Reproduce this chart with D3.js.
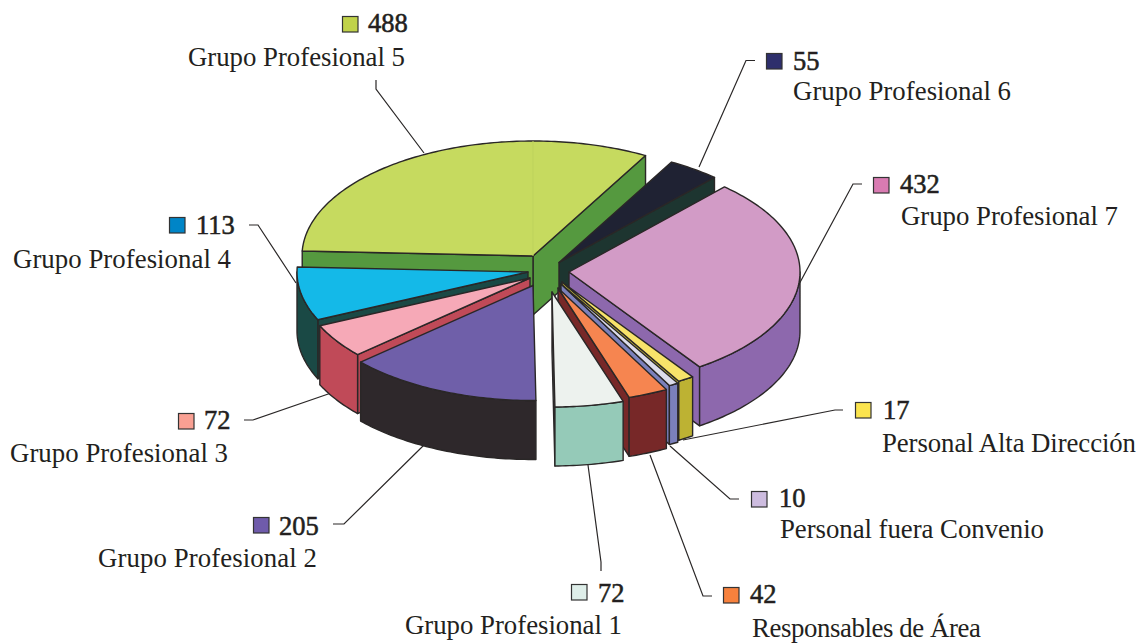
<!DOCTYPE html>
<html><head><meta charset="utf-8">
<script src="https://cdn.jsdelivr.net/npm/d3@7/dist/d3.min.js"></script>
<style>html,body{margin:0;padding:0;background:#fff}svg{display:block}text{font-family:"Liberation Serif",serif;fill:#231f20}</style>
</head><body><svg id="c" width="1139" height="643"></svg>
<script>
// ---- data
const categories = ["Grupo Profesional 5","Grupo Profesional 6","Grupo Profesional 7","Personal Alta Dirección","Personal fuera Convenio","Responsables de Área","Grupo Profesional 1","Grupo Profesional 2","Grupo Profesional 3","Grupo Profesional 4"];
const values = [488,55,432,17,10,42,72,205,72,113];

// ---- styles
const topColors  = ["#c6da5f","#1f2233","#d29bc6","#f8e36a","#dcdcea","#f68550","#edf2ee","#6f5fa9","#f6a9b7","#14b9e8"];
const wallColors = ["#55993f","#1d3530","#8d68ad","#bdb233","#7b80bb","#772828","#95cab8","#2e282b","#c04a58","#1a4945"];
const swatchColors = ["#c0d24a","#2e2f6c","#d97bb2","#fbe44e","#cdbcdf","#f7813d","#deeee9","#6f5bab","#f9a093","#0085c7"];

// ---- layout
const centre = [533,255], radiusX = 231, radiusY = 115, depth = 59, startDeg = -87.5;
const sliceOffsets = [[0,1],[26,7.5],[36,17],[29,27],[28,29],[25,33],[19,37],[0,30.5],[-3,23],[-5,17]];
const paintOrder = [0,1,9,8,7,2,3,4,5,6];
const labelLayout = [ // swatch x,y ; number x,baseline ; label x,baseline,width
  {sw:[342,16],nx:368,ny:32,lx:188,ly:66,lw:217},
  {sw:[766,53],nx:793,ny:70,lx:793,ly:100,lw:218},
  {sw:[873,177],nx:900,ny:193,lx:901,ly:225,lw:217},
  {sw:[855,402],nx:883,ny:419,lx:882,ly:452,lw:254},
  {sw:[751,491],nx:779,ny:507,lx:780,ly:538,lw:264},
  {sw:[723,587],nx:750,ny:603,lx:752,ly:637,lw:229},
  {sw:[571,584],nx:598,ny:602,lx:405,ly:634,lw:217},
  {sw:[253,517],nx:279,ny:535,lx:98,ly:567,lw:219},
  {sw:[178,413],nx:204,ny:429,lx:10,ly:462,lw:218},
  {sw:[169,217],nx:196,ny:234,lx:13,ly:268,lw:218}
];
const leaderLayout = [
  [[376,80],[376,89],[424,153]],
  [[755,60.5],[746,60.5],[699,167]],
  [[862,184],[853,184],[797,288]],
  [[843,410],[835,410],[683,440]],
  [[739,499],[730,499],[670,446]],
  [[712,596],[703,596],[650,455]],
  [[588,465],[601,562],[601,571]],
  [[333,524],[344,524],[424,445]],
  [[244,420],[253,420],[334,392]],
  [[249,225],[258,225],[296,283]]
];

const svg = d3.select("#c");
const ink = "#2a2727";
const x = d3.scaleLinear().domain([-1,1]).range([-radiusX,radiusX]);
const y = d3.scaleLinear().domain([-1,1]).range([-radiusY,radiusY]);
const pie = d3.pie().sort(null).startAngle(startDeg*Math.PI/180).endAngle(startDeg*Math.PI/180+2*Math.PI);
const arcs = pie(values);
const line = d3.line();

const pt = (i,a,dz=0)=>[centre[0]+sliceOffsets[i][0]+x(Math.sin(a)),
                        centre[1]+sliceOffsets[i][1]+y(-Math.cos(a))+dz];
const apex = (i,dz=0)=>[centre[0]+sliceOffsets[i][0],centre[1]+sliceOffsets[i][1]+dz];
const sampled = (a0,a1)=>{const n=Math.max(2,Math.ceil((a1-a0)*60));return d3.range(n+1).map(k=>a0+(a1-a0)*k/n);};

// leaders sit behind the pie
svg.append("g").selectAll("path").data(leaderLayout).join("path")
  .attr("d",d=>line(d)).attr("fill","none").attr("stroke",ink).attr("stroke-width",1.2);

const pies = svg.append("g").attr("stroke",ink).attr("stroke-width",1.4).attr("stroke-linejoin","round");
paintOrder.forEach(i=>{
  const d = arcs[i], g = pies.append("g");
  const wall = (a)=>g.append("path")
     .attr("d",line([apex(i),pt(i,a),pt(i,a,depth),apex(i,depth)])+"Z").attr("fill",wallColors[i]);
  if (Math.sin(d.endAngle)>0) wall(d.endAngle);
  if (Math.sin(d.startAngle)<0) wall(d.startAngle);
  // outer rim: only the front half of the ellipse faces the viewer
  const a0 = Math.max(d.startAngle,Math.PI/2), a1 = Math.min(d.endAngle,3*Math.PI/2);
  if (a1>a0) {
    const t = sampled(a0,a1);
    g.append("path").attr("d",line(t.map(a=>pt(i,a)).concat(t.slice().reverse().map(a=>pt(i,a,depth))))+"Z")
     .attr("fill",wallColors[i]);
  }
  g.append("path").attr("d",line([apex(i)].concat(sampled(d.startAngle,d.endAngle).map(a=>pt(i,a))))+"Z")
   .attr("fill",topColors[i]);
  if (i===0) { // faint seam of the largest slice
    g.append("path").attr("d",line([apex(i),pt(i,0)])).attr("stroke","#bdd25c").attr("stroke-width",1);
  }
});

// labels
svg.append("g").selectAll("rect").data(labelLayout).join("rect")
  .attr("x",d=>d.sw[0]+.5).attr("y",d=>d.sw[1]+.5).attr("width",15.5).attr("height",15.5)
  .attr("fill",(d,i)=>swatchColors[i]).attr("stroke","#333").attr("stroke-width",1.2);
svg.append("g").selectAll("text").data(labelLayout).join("text")
  .attr("x",d=>d.nx).attr("y",d=>d.ny).attr("font-size",26.5)
  .style("stroke","#231f20").style("stroke-width",0.55)
  .text((d,i)=>values[i]);
svg.append("g").selectAll("text").data(labelLayout).join("text")
  .attr("x",d=>d.lx).attr("y",d=>d.ly).attr("font-size",26.8)
  .attr("textLength",d=>d.lw).attr("lengthAdjust","spacing")
  .text((d,i)=>categories[i]);
</script></body></html>
